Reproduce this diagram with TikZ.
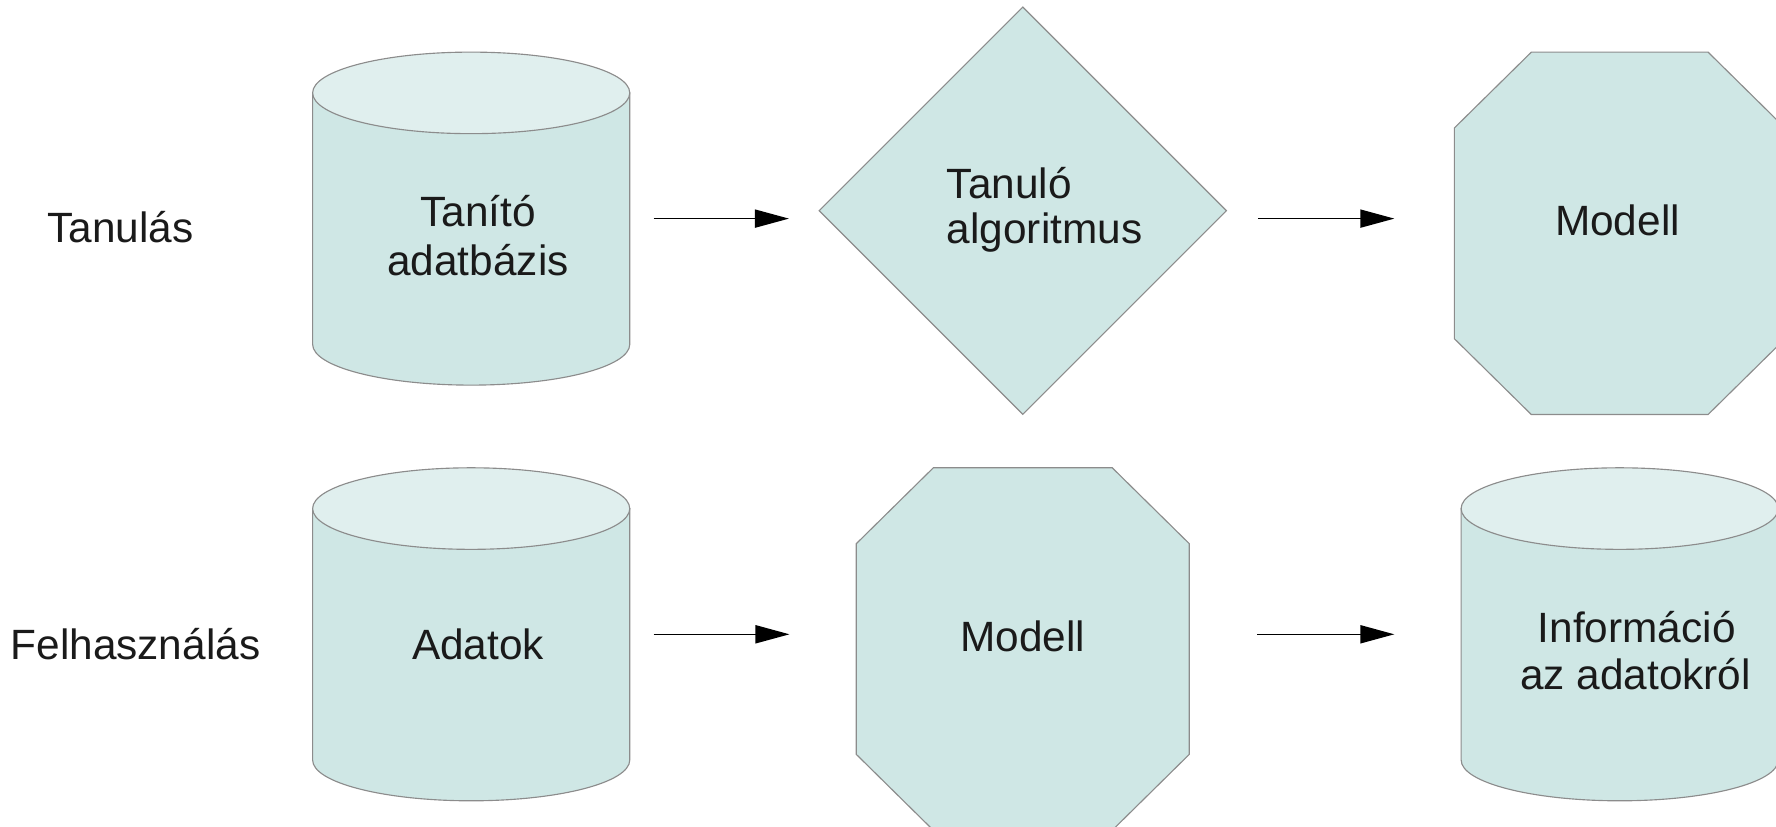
\documentclass[tikz,border=0pt]{standalone}
\usepackage{fontspec}
\setmainfont{Liberation Sans}
\usetikzlibrary{shapes.geometric,arrows.meta}
\definecolor{body}{HTML}{CFE7E5}
\definecolor{lid}{HTML}{E0EFEE}
\definecolor{edge}{HTML}{8C8C8C}
\definecolor{ink}{HTML}{1A1A1A}
\tikzset{
  shapeline/.style={draw=edge, line width=0.5pt},
  lbl/.style={font=\fontsize{18.7pt}{21pt}\selectfont, text=ink, inner sep=0, outer sep=0},
  arr/.style={-{Triangle[length=15pt,width=8pt]}, line width=0.65pt, draw=black},
  frame/.style={inner sep=0, outer sep=0},
}
% a drum-shaped data store: name, centre x, centre y (body 280 x 294, ends 36 high)
\newcommand\drum[3]{%
  \filldraw[shapeline, fill=body] (#2-140,#3-111) -- (#2-140,#3+111)
     arc[start angle=180, end angle=0, x radius=140, y radius=36]
     -- (#2+140,#3-111) -- cycle;
  \filldraw[shapeline, fill=lid] (#2,#3-111) ellipse[x radius=140, y radius=36];
  \node[frame, minimum width=140pt, minimum height=147pt] (#1) at (#2,#3) {};
}
\begin{document}
\begin{tikzpicture}[x=0.5pt, y=-0.5pt]
  \useasboundingbox (0,0) rectangle (1568,730);

  % row labels
  \node[lbl, anchor=base] (rowA) at (106.5,214.5) {Tanulás};
  \node[lbl, anchor=base] (rowB) at (119.6,582) {Felhasználás};

  % learning row
  \drum{dbA}{416}{193}
  \node[lbl, anchor=base] (dbAl1) at (422,200) {Tanító};
  \node[lbl, anchor=base] (dbAl2) at (422,243) {adatbázis};

  \node[diamond, shapeline, fill=body, minimum width=180pt, minimum height=180pt,
        inner sep=0, aspect=1] (alg) at (903,186) {};
  \node[lbl, anchor=base west] (algl1) at (836,175) {Tanuló};
  \node[lbl, anchor=base west] (algl2) at (836,215) {algoritmus};

  \filldraw[shapeline, fill=body] (1352,46) -- (1508,46) -- (1576,113) -- (1576,299)
     -- (1508,366) -- (1352,366) -- (1284,299) -- (1284,113) -- cycle;
  \node[frame, minimum width=146pt, minimum height=160pt] (modA) at (1430,206) {};
  \node[lbl, anchor=base] (modAl) at (1428,208) {Modell};

  % usage row
  \drum{dbB}{416}{560}
  \node[lbl, anchor=base] (dbBl) at (422,582) {Adatok};

  \filldraw[shapeline, fill=body] (824,413) -- (982,413) -- (1050,480) -- (1050,666)
     -- (982,733) -- (824,733) -- (756,666) -- (756,480) -- cycle;
  \node[frame, minimum width=147pt, minimum height=160pt] (modB) at (903,573) {};
  \node[lbl, anchor=base] (modBl) at (903,575) {Modell};

  \drum{dbC}{1430}{560}
  \node[lbl, anchor=base] (dbCl1) at (1445,567) {Információ};
  \node[lbl, anchor=base] (dbCl2) at (1444,609) {az adatokról};

  % flow arrows
  \draw[arr, shorten <=10.5pt, shorten >=13pt] (dbA.east) -- (dbA.east -| alg.west);
  \draw[arr, shorten <=13.5pt, shorten >=26.5pt] (dbA.east -| alg.east) -- (dbA.east -| modA.west);
  \draw[arr, shorten <=10.5pt, shorten >=29.5pt] (dbB.east) -- (dbB.east -| modB.west);
  \draw[arr, shorten <=30pt, shorten >=29.5pt] (dbB.east -| modB.east) -- (dbB.east -| dbC.west);
\end{tikzpicture}
\end{document}
